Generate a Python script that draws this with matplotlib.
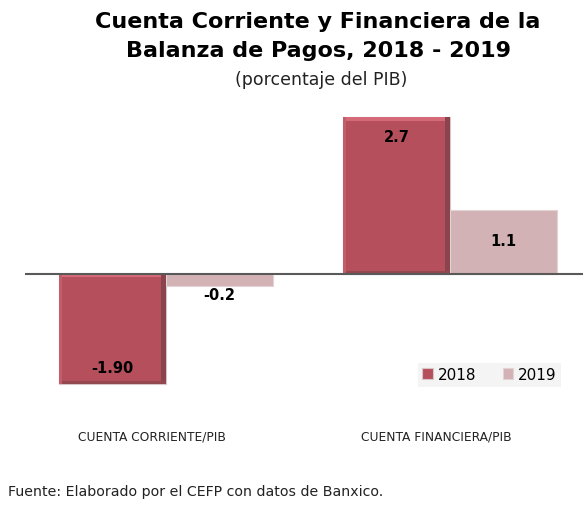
import numpy as np
import matplotlib.pyplot as plt
from matplotlib.patches import Rectangle

# datos (porcentaje del PIB)
categorias = ["CUENTA CORRIENTE/PIB", "CUENTA FINANCIERA/PIB"]
anios = ["2018", "2019"]
valores_2018 = [-1.90, 2.7]
valores_2019 = [-0.2, 1.1]
etiquetas_2018 = ["-1.90", "2.7"]
etiquetas_2019 = ["-0.2", "1.1"]

color_2018 = "#B64F5C"
color_2019 = "#D2B2B5"

W, H = 583, 506
fig = plt.figure(figsize=(W / 100, H / 100), dpi=100)
plt.rcParams["font.family"] = "DejaVu Sans"

# área del gráfico en pixeles: x 25..583, y 105..400
ax = fig.add_axes([25 / W, 1 - 400 / H, (583 - 25) / W, (400 - 105) / H])
escala = 58.0  # px por unidad
ax.set_ylim(-(400 - 275) / escala, (275 - 105) / escala)
ax.set_xlim(-0.496, 1.468)

x = np.arange(len(categorias))
ancho = 0.377
b1 = ax.bar(x - ancho / 2, valores_2018, ancho, color=color_2018,
            edgecolor="#D9C5C7", linewidth=0.8, zorder=2)
b2 = ax.bar(x + ancho / 2, valores_2019, ancho, color=color_2019,
            edgecolor="#E4D3D5", linewidth=0.8, zorder=2)

# efecto de bisel en las barras de 2018
bisel_x = 0.018
bisel_y = 0.09
for r in b1.patches:
    x0, y0 = r.get_x(), r.get_y()
    w, h = r.get_width(), r.get_height()
    top = y0 + h if h > 0 else y0
    bot = y0 if h > 0 else y0 + h
    ax.add_patch(Rectangle((x0 + w - bisel_x, bot), bisel_x, top - bot,
                           color="#8A444D", zorder=3, lw=0))
    ax.add_patch(Rectangle((x0, bot), w, bisel_y * 0.6,
                           color="#93474F", zorder=3, lw=0))
    ax.add_patch(Rectangle((x0, top - bisel_y * 0.6), w - bisel_x, bisel_y * 0.6,
                           color="#D46A77", zorder=3, lw=0))
    ax.add_patch(Rectangle((x0, bot), bisel_x * 0.6, top - bot,
                           color="#C25D6A", zorder=3, lw=0))

ax.axhline(0, color="#595959", lw=1.5, zorder=4)

# etiquetas de datos
kw = dict(ha="center", va="center", fontsize=10.5, fontweight="bold", color="black", zorder=5)
ax.text(x[0] - ancho / 2, valores_2018[0] + 0.29, etiquetas_2018[0], **kw)
ax.text(x[1] - ancho / 2, valores_2018[1] - 0.33, etiquetas_2018[1], **kw)
ax.text(x[0] + ancho / 2, valores_2019[0] - 0.16, etiquetas_2019[0], **kw)
ax.text(x[1] + ancho / 2, valores_2019[1] * 0.52, etiquetas_2019[1], **kw)

for s in ax.spines.values():
    s.set_visible(False)
ax.set_xticks([])
ax.set_yticks([])

# categorías
for xi, c in zip(x, categorias):
    ax.text(xi - 0.05, -(437 - 275) / escala, c, ha="center", va="center",
            fontsize=8.8, color="#222222", clip_on=False)

# leyenda
ax.legend([b1, b2], anios, loc="upper left", bbox_to_anchor=((413 - 25) / (583 - 25), 1 - (359 - 105) / (400 - 105)),
          ncol=2, frameon=True, facecolor="#F4F4F4", edgecolor="none", framealpha=1,
          fontsize=11, handlelength=0.7, handleheight=0.7, handletextpad=0.3,
          columnspacing=1.75, borderpad=0.3, borderaxespad=0.3, fancybox=False)

# títulos
fig.text(318 / W, 1 - 22 / H, "Cuenta Corriente y Financiera de la", ha="center", va="center",
         fontsize=16, fontweight="bold", color="black")
fig.text(318 / W, 1 - 51 / H, "Balanza de Pagos, 2018 - 2019", ha="center", va="center",
         fontsize=16, fontweight="bold", color="black")
fig.text(321 / W, 1 - 80 / H, "(porcentaje del PIB)", ha="center", va="center",
         fontsize=12.5, color="#222222")
fig.text(8 / W, 1 - 492 / H, "Fuente: Elaborado por el CEFP con datos de Banxico.", ha="left", va="center",
         fontsize=10.2, color="#222222")

fig.savefig("out.png", dpi=100)
